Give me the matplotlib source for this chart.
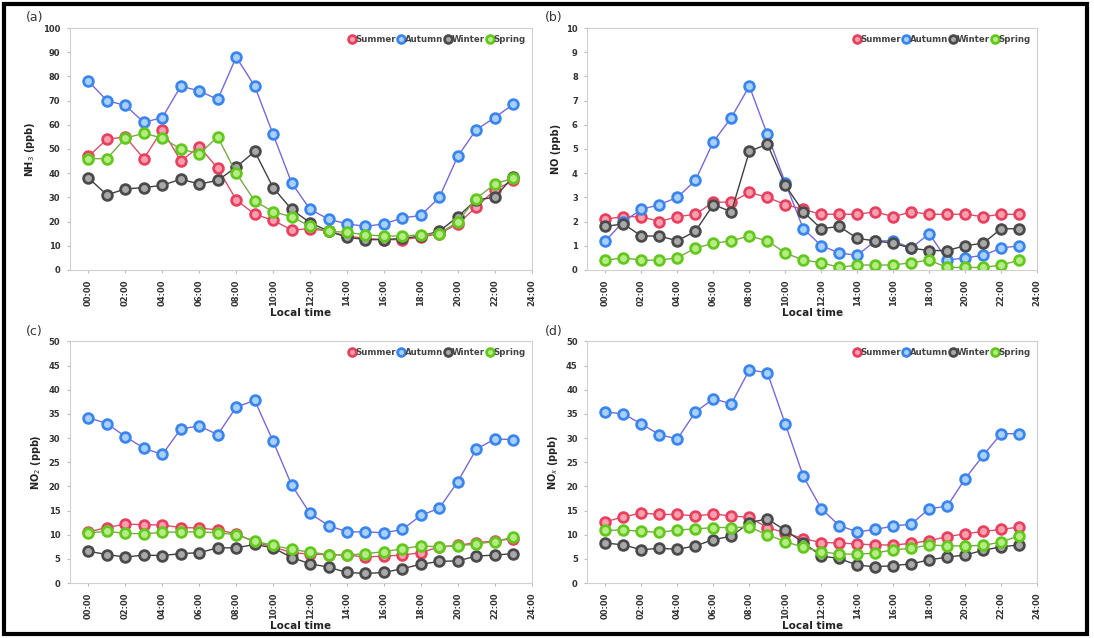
import numpy as np
import matplotlib
matplotlib.use('Agg')
import matplotlib.pyplot as plt
from matplotlib.patches import Rectangle

# Diurnal cycles (ppb) by season, hours 0..23
hours = list(range(24))
seasons = ['Summer', 'Autumn', 'Winter', 'Spring']

nh3_summer = [47, 54, 55, 46, 58, 45, 51, 42, 29, 23, 20.5, 16.5, 17, 16, 14, 13, 12.5, 12.5, 13.5, 15, 19, 26, 33, 37]
nh3_autumn = [78, 70, 68, 61, 63, 76, 74, 70.5, 88, 76, 56, 36, 25, 21, 19, 18, 19, 21.5, 22.5, 30, 47, 58, 63, 68.5]
nh3_winter = [38, 31, 33.5, 34, 35, 37.5, 35.5, 37, 42.5, 49, 34, 25, 19.5, 16, 13.5, 12.5, 12.5, 13, 14, 16, 22, 29, 30, 38.5]
nh3_spring = [46, 46, 54.5, 56.5, 54.5, 50, 48, 55, 40, 28.5, 24, 22, 18, 16, 15.5, 14.5, 14, 14, 14.5, 15, 20, 29.5, 35.5, 38]

no_summer = [2.1, 2.2, 2.2, 2.0, 2.2, 2.3, 2.8, 2.8, 3.2, 3.0, 2.7, 2.5, 2.3, 2.3, 2.3, 2.4, 2.2, 2.4, 2.3, 2.3, 2.3, 2.2, 2.3, 2.3]
no_autumn = [1.2, 2.0, 2.5, 2.7, 3.0, 3.7, 5.3, 6.3, 7.6, 5.6, 3.6, 1.7, 1.0, 0.7, 0.6, 1.2, 1.2, 0.9, 1.5, 0.4, 0.5, 0.6, 0.9, 1.0]
no_winter = [1.8, 1.9, 1.4, 1.4, 1.2, 1.6, 2.7, 2.4, 4.9, 5.2, 3.5, 2.4, 1.7, 1.8, 1.3, 1.2, 1.1, 0.9, 0.8, 0.8, 1.0, 1.1, 1.7, 1.7]
no_spring = [0.4, 0.5, 0.4, 0.4, 0.5, 0.9, 1.1, 1.2, 1.4, 1.2, 0.7, 0.4, 0.3, 0.1, 0.2, 0.2, 0.2, 0.3, 0.4, 0.1, 0.1, 0.1, 0.2, 0.4]

no2_summer = [10.6, 11.5, 12.2, 12.1, 12.0, 11.5, 11.4, 11.0, 10.2, 8.5, 7.5, 6.3, 6.0, 5.9, 5.8, 5.4, 5.6, 5.8, 6.3, 7.5, 7.8, 8.4, 8.7, 9.2]
no2_autumn = [34.2, 33.0, 30.3, 27.9, 26.6, 31.9, 32.5, 30.7, 36.4, 37.8, 29.3, 20.3, 14.4, 11.9, 10.6, 10.6, 10.4, 11.1, 14.0, 15.5, 21.0, 27.7, 29.8, 29.7]
no2_winter = [6.6, 5.9, 5.4, 5.8, 5.7, 6.1, 6.3, 7.3, 7.3, 8.0, 7.3, 5.3, 4.0, 3.3, 2.2, 2.0, 2.2, 3.0, 3.9, 4.5, 4.6, 5.6, 5.8, 6.1]
no2_spring = [10.4, 10.7, 10.3, 10.2, 10.5, 10.6, 10.6, 10.4, 10.0, 8.7, 7.8, 7.0, 6.4, 5.9, 5.8, 6.1, 6.5, 7.1, 7.7, 7.5, 7.7, 8.1, 8.6, 9.5]

nox_summer = [12.7, 13.7, 14.5, 14.2, 14.2, 13.9, 14.3, 13.9, 13.6, 11.5, 10.4, 9.2, 8.4, 8.3, 8.1, 7.9, 7.9, 8.2, 8.8, 9.6, 10.2, 10.7, 11.1, 11.6]
nox_autumn = [35.4, 35.0, 32.9, 30.7, 29.8, 35.4, 38.1, 37.1, 44.1, 43.5, 32.9, 22.1, 15.4, 11.9, 10.6, 11.1, 11.8, 12.2, 15.4, 15.9, 21.6, 26.4, 30.9, 30.9]
nox_winter = [8.3, 7.9, 6.9, 7.2, 7.0, 7.7, 9.0, 9.7, 12.5, 13.3, 10.9, 8.4, 5.6, 5.1, 3.7, 3.4, 3.6, 4.0, 4.8, 5.4, 5.8, 6.8, 7.5, 7.9]
nox_spring = [10.9, 11.0, 10.7, 10.5, 11.0, 11.2, 11.5, 11.5, 11.6, 10.0, 8.6, 7.4, 6.5, 6.0, 6.0, 6.2, 6.9, 7.2, 7.9, 7.7, 7.7, 7.8, 8.5, 9.8]

panels = [
    ('(a)', 'NH$_3$ (ppb)', 100, 10, [nh3_summer, nh3_autumn, nh3_winter, nh3_spring]),
    ('(b)', 'NO (ppb)', 10, 1, [no_summer, no_autumn, no_winter, no_spring]),
    ('(c)', 'NO$_2$ (ppb)', 50, 5, [no2_summer, no2_autumn, no2_winter, no2_spring]),
    ('(d)', 'NO$_x$ (ppb)', 50, 5, [nox_summer, nox_autumn, nox_winter, nox_spring]),
]

edge_colors = ['#e8405e', '#3a86ee', '#4a4a4a', '#62c81c']
face_colors = ['#f7a0b0', '#a8d0fb', '#a8a8a8', '#b6ec86']
line_colors = ['#d8506a', '#7a68d6', '#404040', '#7aa84a']

xtick_pos = list(range(0, 25, 2))
xtick_lab = ['%02d:00' % h for h in xtick_pos]

fig = plt.figure(figsize=(10.94, 6.38), dpi=100)
boxes = [
    [0.064, 0.577, 0.422, 0.379],
    [0.537, 0.577, 0.411, 0.379],
    [0.064, 0.086, 0.422, 0.379],
    [0.537, 0.086, 0.411, 0.379],
]

for (tag, ylab, ymax, ystep, series), box in zip(panels, boxes):
    ax = fig.add_axes(box)
    for s, vals, ec, fc, lc in zip(seasons, series, edge_colors, face_colors, line_colors):
        ax.plot(hours, vals, color=lc, lw=1.0, marker='o', ms=7,
                mfc=fc, mec=ec, mew=2.0, label=s)
    ax.set_xlim(-1, 24)
    ax.set_ylim(0, ymax)
    ax.set_yticks(np.arange(0, ymax + ystep / 2, ystep))
    ax.set_xticks(xtick_pos)
    ax.set_xticklabels(xtick_lab, rotation=90, fontsize=6, fontweight='bold',
                       color='#333333')
    for t in ax.get_yticklabels():
        t.set_fontsize(6)
        t.set_fontweight('bold')
        t.set_color('#333333')
    ax.tick_params(length=2, color='#bbbbbb', pad=5)
    for sp in ax.spines.values():
        sp.set_color('#d0d0d0')
        sp.set_linewidth(0.8)
    ax.set_xlabel('Local time', fontsize=7.5, fontweight='bold', labelpad=1,
                  color='#222222')
    ax.set_ylabel(ylab, fontsize=7, fontweight='bold', labelpad=4,
                  color='#222222')
    ax.legend(loc='upper right', ncol=4, frameon=False, markerscale=0.8,
              handlelength=0.5, handletextpad=0.15, columnspacing=0.35,
              borderaxespad=0.35, prop={'size': 6.2, 'weight': 'bold'},
              labelcolor='#444444')
    ax.text(-0.095, 1.015, tag, transform=ax.transAxes, fontsize=9,
            ha='left', va='bottom', color='#333333')

# outer frame around the whole figure
fig.patches.append(Rectangle((0.004, 0.006), 0.99, 0.987, transform=fig.transFigure,
                             fill=False, ec='black', lw=3))

fig.savefig('out.png', dpi=100)
